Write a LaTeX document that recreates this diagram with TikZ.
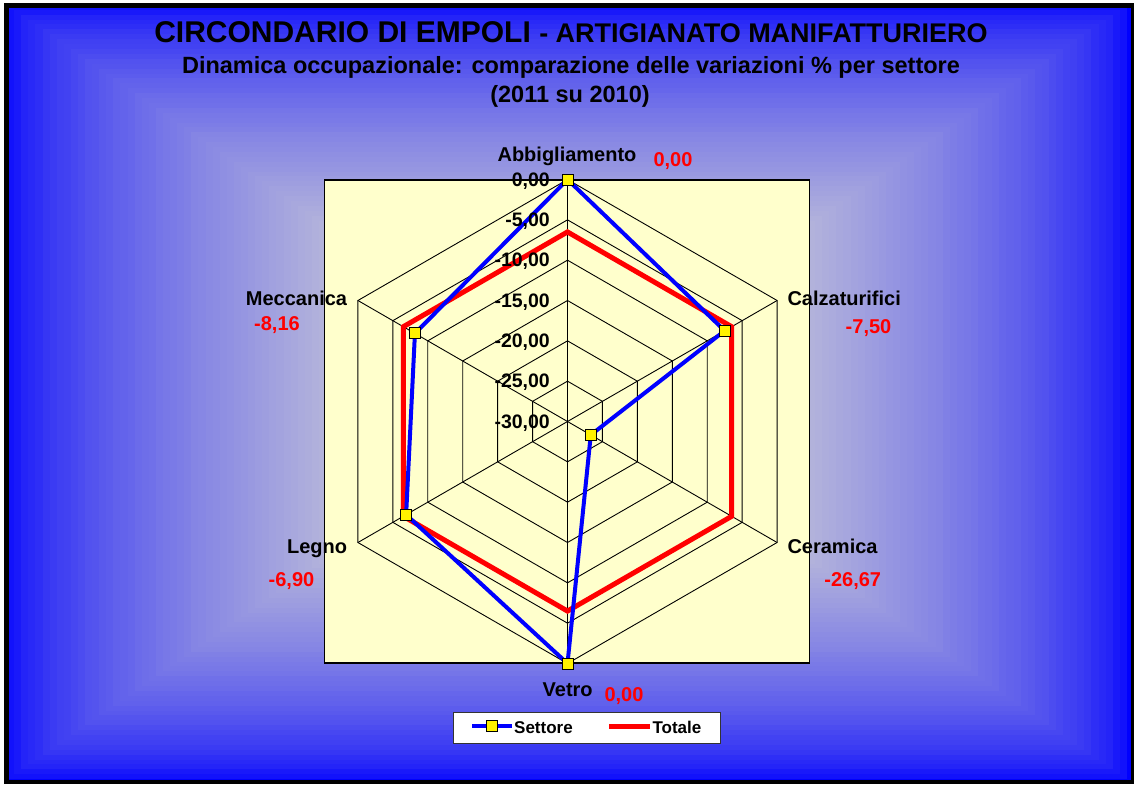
\documentclass[tikz,border=0pt]{standalone}
\usepackage{fontspec}
\setmainfont{Liberation Sans}
\usetikzlibrary{positioning, calc}

\definecolor{edgeblue}{RGB}{0,0,255}
\definecolor{paleyellow}{RGB}{255,255,204}
\definecolor{totalered}{RGB}{255,0,0}

\tikzset{
  gridline/.style={draw=black, line width=0.9pt},
  settoreline/.style={draw=edgeblue, line width=4pt, line join=miter},
  totaleline/.style={draw=totalered, line width=5pt, line join=miter},
  marker/.style={draw=black, fill=yellow, line width=0.9pt, minimum size=11pt, inner sep=0pt},
  catlabel/.style={inner sep=0pt, font=\fontsize{20}{24}\selectfont\bfseries},
  vallabel/.style={catlabel, text=totalered},
  ticklabel/.style={inner sep=0pt, anchor=east, font=\fontsize{19.5}{24}\selectfont\bfseries},
  legtext/.style={inner sep=0pt, font=\fontsize{17}{20}\selectfont\bfseries}
}

\begin{document}
\begin{tikzpicture}[x=1pt, y=-1pt]
\useasboundingbox (0,0) rectangle (1134,784);

% background: box gradient, blue at the edges
\fill[white] (0,0) rectangle (1134,784);
\fill[edgeblue] (6.5,5.3) rectangle (1133,782);
\foreach \i in {1,...,79} {
  \pgfmathtruncatemacro{\mix}{100*(\i/80)^0.6}
  \fill[paleyellow!\mix!edgeblue] ({7.0875*\i},{4.9*\i}) rectangle ({1134-7.0875*\i},{784-4.9*\i});
}
\draw[line width=4.5pt] (6.5,5.3) rectangle (1133,782);

% titles
\node[anchor=base, inner sep=0pt] (title) at (571,42)
  {\fontsize{30}{34}\selectfont\bfseries CIRCONDARIO DI EMPOLI {\fontsize{27}{30}\selectfont - ARTIGIANATO MANIFATTURIERO}};
\node[anchor=base, inner sep=0pt, font=\fontsize{23.5}{28}\selectfont\bfseries] (subtitle) at (571,74)
  {Dinamica occupazionale: comparazione delle variazioni \% per settore};
\node[anchor=base, inner sep=0pt, font=\fontsize{23.5}{28}\selectfont\bfseries] (years) at (570,102.5)
  {(2011 su 2010)};

% plot area
\node[draw=black, line width=1.2pt, fill=paleyellow, minimum width=485, minimum height=483, inner sep=0pt] (plotarea) at (567,421.5) {};

\coordinate (O) at (567.5,421.5);
\pgfmathsetmacro{\R}{242}
\begin{scope}[shift={(O)}, yscale=-1]
\foreach \k in {1,...,6}
  \draw[gridline] (90:{\k*\R/6}) -- (30:{\k*\R/6}) -- (-30:{\k*\R/6}) -- (-90:{\k*\R/6})
    -- (-150:{\k*\R/6}) -- (150:{\k*\R/6}) -- cycle;
\foreach \a [count=\n] in {90,30,-30,-90,-150,150}
  \draw[gridline] (0,0) -- (\a:\R) coordinate (v\n);

% Settore values, Totale about -6,5
\foreach \val [count=\n] in {0,-7.5,-26.67,0,-6.9,-8.16}
  \coordinate (s\n) at ({150-60*\n}:{(\val+30)/30*\R});
\foreach \n in {1,...,6}
  \coordinate (t\n) at ({150-60*\n}:{(-6.5+30)/30*\R});
\end{scope}

\draw[totaleline] (t1) -- (t2) -- (t3) -- (t4) -- (t5) -- (t6) -- cycle;
\draw[settoreline] (s1) -- (s2) -- (s3) -- (s4) -- (s5) -- (s6) -- cycle;
\foreach \n in {1,...,6}
  \node[marker] (m\n) at (s\n) {};

% scale
\foreach \k/\lab in {6/{0,00},5/{-5,00},4/{-10,00},3/{-15,00},2/{-20,00},1/{-25,00},0/{-30,00}}
  \node[ticklabel] (tick\k) at ($(O)+(-17.5,{1.5-\k*\R/6})$) {\lab};

% sectors and their values
\node[catlabel, anchor=base] (abbigliamento) at (567,161.7) {Abbigliamento};
\node[vallabel, anchor=base] (valabbigliamento) at (673,166.7) {0,00};
\node[catlabel, anchor=base west] (calzaturifici) at (787.3,305) {Calzaturifici};
\node[vallabel, anchor=base] (valcalzaturifici) at (868.5,333.3) {-7,50};
\node[catlabel, anchor=base west] (ceramica) at (787.3,553.3) {Ceramica};
\node[vallabel, anchor=base] (valceramica) at (852.7,586.7) {-26,67};
\node[catlabel, anchor=base] (vetro) at (567.7,696) {Vetro};
\node[vallabel, anchor=base] (valvetro) at (624,701.7) {0,00};
\node[catlabel, anchor=base east] (legno) at (347.3,553.3) {Legno};
\node[vallabel, anchor=base] (vallegno) at (291.5,586.7) {-6,90};
\node[catlabel, anchor=base east] (meccanica) at (347.3,305) {Meccanica};
\node[vallabel, anchor=base] (valmeccanica) at (277,330.7) {-8,16};

% legend
\node[draw=black!80, fill=white, line width=0.9pt, minimum width=267, minimum height=31, inner sep=0pt] (legend) at (586.5,727.5) {};
\coordinate (ls1) at (472,726);
\coordinate (ls2) at (512,726);
\draw[settoreline] (ls1) -- (ls2);
\node[marker] (lmark) at ($(ls1)!0.5!(ls2)$) {};
\node[legtext, anchor=base west] (settore) at (514,733.3) {Settore};
\coordinate (lt1) at (609,726);
\coordinate (lt2) at (650,726);
\draw[totaleline] (lt1) -- (lt2);
\node[legtext, anchor=base west] (totale) at (652.3,733.3) {Totale};

\end{tikzpicture}
\end{document}
